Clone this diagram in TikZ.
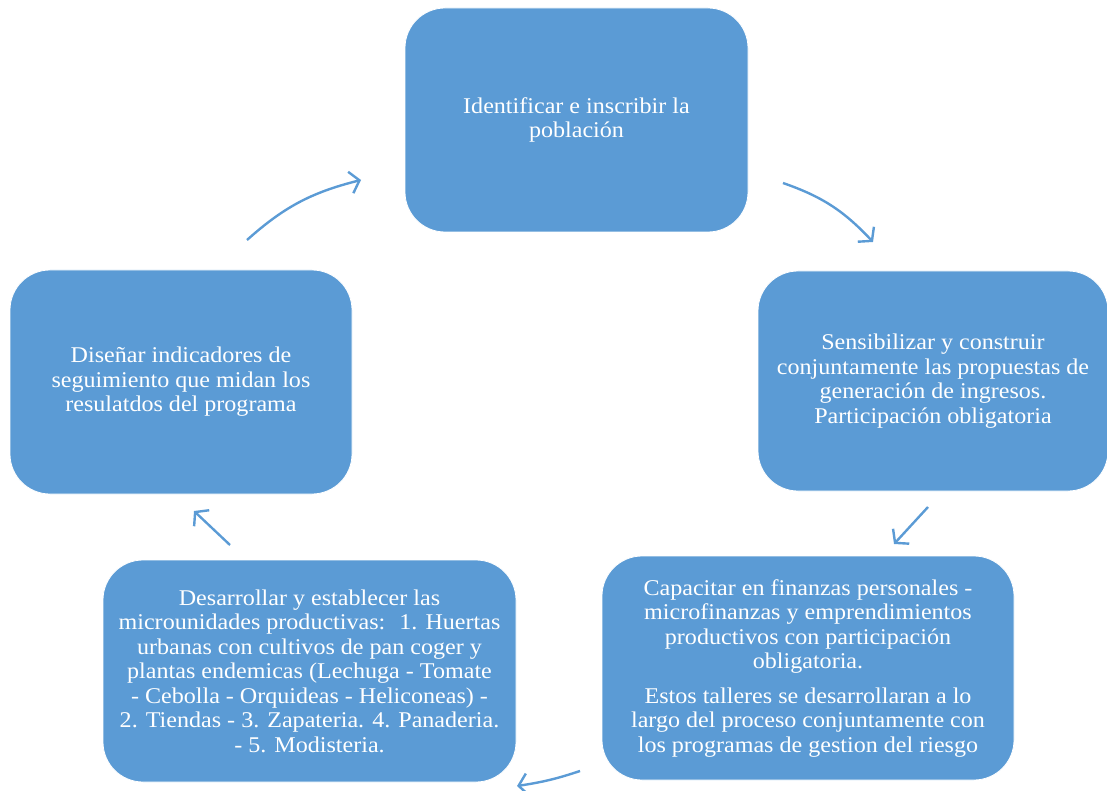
\documentclass[tikz,border=0pt]{standalone}
\usepackage{fontspec}
\setmainfont{Liberation Serif}[FakeStretch=1.07]
\usetikzlibrary{arrows.meta, bending}
\definecolor{BoxBlue}{HTML}{5B9BD5}

\begin{document}
\begin{tikzpicture}[x=1pt, y=-1pt,
    stage/.style={fill=BoxBlue, draw=white, line width=0.8pt, rounded corners=40pt,
        text=white, align=center, inner sep=0pt,
        font=\fontsize{22.5}{24.5}\selectfont},
    cycle/.style={BoxBlue, line width=2.4pt,
        -{Straight Barb[length=9pt, width=22pt, line width=2.4pt]}}]
\useasboundingbox (0,0) rectangle (1107,791);

% the five stages
\node[stage, minimum width=343pt, minimum height=224pt] (identify) at (576.5,120)
    {Identificar e inscribir la\\población};
\node[stage, minimum width=350pt, minimum height=220pt] (sensitize) at (933,381)
    {Sensibilizar y construir\\conjuntamente las propuestas de\\generación de ingresos.\\Participación obligatoria};
\node[stage, minimum width=412pt, minimum height=224pt] (train) at (808,668)
    {Capacitar en finanzas personales -\\microfinanzas y emprendimientos\\productivos con participación\\obligatoria.\\[10pt]
     Estos talleres se desarrollaran a lo\\largo del proceso conjuntamente con\\los programas de gestion del riesgo};
\node[stage, minimum width=413pt, minimum height=222pt] (develop) at (309.5,671)
    {Desarrollar y establecer las\\microunidades productivas:~ 1. Huertas\\urbanas con cultivos de pan coger y\\plantas endemicas (Lechuga - Tomate\\- Cebolla - Orquideas - Heliconeas) -\\2. Tiendas - 3. Zapateria. 4. Panaderia.\\- 5. Modisteria.};
\node[stage, minimum width=342pt, minimum height=224pt] (design) at (181,382)
    {Diseñar indicadores de\\seguimiento que midan los\\resulatdos del programa};

% arrow ends
\coordinate (a1-from) at (247,240);  \coordinate (a1-to) at (361,180);
\coordinate (a2-from) at (783,183);  \coordinate (a2-to) at (873,242);
\coordinate (a3-from) at (928,507);  \coordinate (a3-to) at (894,544);
\coordinate (a4-from) at (580,771);  \coordinate (a4-to) at (517,786);
\coordinate (a5-from) at (230,545);  \coordinate (a5-to) at (194,511);

\draw[cycle] (a1-from) to[bend left=14] (a1-to);
\draw[cycle] (a2-from) to[bend left=14] (a2-to);
\draw[cycle] (a3-from) -- (a3-to);
\draw[cycle] (a4-from) to[bend left=5] (a4-to);
\draw[cycle] (a5-from) -- (a5-to);

\end{tikzpicture}
\end{document}
